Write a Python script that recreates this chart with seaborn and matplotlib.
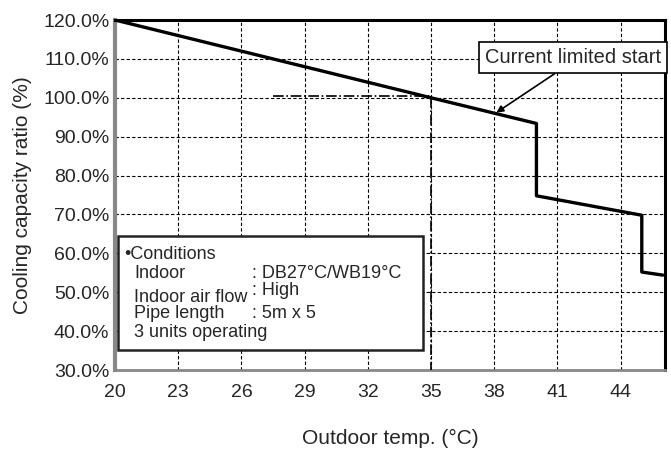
import pandas as pd
import matplotlib
matplotlib.use('Agg')
import matplotlib.pyplot as plt
import seaborn as sns
from matplotlib.patches import Rectangle

# cooling capacity curve
temps = [20, 35, 40, 40, 45, 45, 46]
ratios = [120.0, 100.0, 93.4, 74.8, 69.8, 55.2, 54.4]

# rated point guide (dash-dot)
ref_temps = [27.5, 35, 35]
ref_ratios = [100.4, 100.4, 30.0]

x_ticks = [20, 23, 26, 29, 32, 35, 38, 41, 44]
y_ticks = [30, 40, 50, 60, 70, 80, 90, 100, 110, 120]

cond_labels = ['Indoor', 'Indoor air flow', 'Pipe length']
cond_values = [': DB27°C/WB19°C', ': High', ': 5m x 5']

sns.set_style('white')
plt.rcParams['font.family'] = ['Liberation Sans', 'DejaVu Sans']

fig = plt.figure(figsize=(6.71, 4.53), dpi=100)
ax = fig.add_axes([0.1714, 0.1832, 0.8196, 0.7726])

curve = pd.DataFrame({'temp': temps, 'ratio': ratios})
ref = pd.DataFrame({'temp': ref_temps, 'ratio': ref_ratios})

ax.set_xlim(20, 46.1)
ax.set_ylim(30, 120)
ax.set_xticks(x_ticks)
ax.set_yticks(y_ticks)
ax.set_yticklabels([f'{v:.1f}%' for v in y_ticks])
ax.grid(True, color='black', linestyle=(0, (3, 2)), linewidth=0.8)
ax.set_axisbelow(True)

sns.lineplot(data=ref, x='temp', y='ratio', estimator=None, sort=False,
             color='black', linewidth=1.2, linestyle='-.', ax=ax, zorder=3)
sns.lineplot(data=curve, x='temp', y='ratio', estimator=None, sort=False,
             color='black', linewidth=2.4, ax=ax, zorder=4)

for side in ['top', 'right']:
    ax.spines[side].set_color('black')
    ax.spines[side].set_linewidth(2.2)
ax.spines['left'].set_color('#888888')
ax.spines['left'].set_linewidth(3)
ax.spines['bottom'].set_color('#888888')
ax.spines['bottom'].set_linewidth(2)

ax.tick_params(axis='x', labelsize=14, length=0, pad=10)
ax.tick_params(axis='y', labelsize=14, length=0, pad=4)
ax.set_xlabel('Outdoor temp. (°C)', fontsize=15, labelpad=20)
ax.set_ylabel('Cooling capacity ratio (%)', fontsize=15, labelpad=8)

# conditions box
ax.add_patch(Rectangle((20.14, 35.1), 14.46, 29.3, facecolor='white',
                       edgecolor='#222222', linewidth=1.8, zorder=5))
ax.text(20.45, 59.8, '•Conditions', fontsize=13, va='center', zorder=6)
label_y = [54.9, 48.6, 44.6]
value_y = [54.9, 50.4, 44.6]
for lab, val, ly, vy in zip(cond_labels, cond_values, label_y, value_y):
    ax.text(20.9, ly, lab, fontsize=13, va='center', zorder=6)
    ax.text(26.5, vy, val, fontsize=13, va='center', zorder=6)
ax.text(20.9, 39.6, '3 units operating', fontsize=13, va='center', zorder=6)

# annotation
ax.annotate('Current limited start', xy=(38.1, 96.2), xytext=(45.92, 110.3),
            fontsize=14.5, ha='right', va='center', zorder=6,
            bbox=dict(boxstyle='square,pad=0.3', fc='white', ec='black', lw=1.2),
            arrowprops=dict(arrowstyle='-|>', color='black', lw=1.2,
                            shrinkA=0, shrinkB=0, mutation_scale=10,
                            relpos=(0.45, 0.0)),
            annotation_clip=False)

fig.savefig('out.png', dpi=100)
